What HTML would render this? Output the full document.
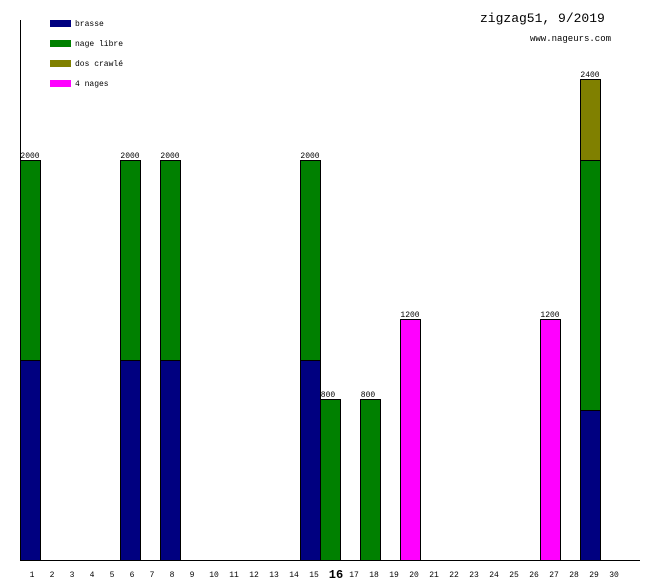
<!DOCTYPE html>
<html><head><style>body{margin:0;background:#fff}svg{display:block}</style></head><body>
<svg width="660" height="580" xmlns="http://www.w3.org/2000/svg" font-family="'Liberation Mono','DejaVu Sans Mono',monospace">
<rect width="660" height="580" fill="#fff"/>
<g stroke="#000" stroke-width="1">
<rect x="20.5" y="360.5" width="20" height="200" fill="#000080"/>
<rect x="20.5" y="160.5" width="20" height="200" fill="#008000"/>
<rect x="120.5" y="360.5" width="20" height="200" fill="#000080"/>
<rect x="120.5" y="160.5" width="20" height="200" fill="#008000"/>
<rect x="160.5" y="360.5" width="20" height="200" fill="#000080"/>
<rect x="160.5" y="160.5" width="20" height="200" fill="#008000"/>
<rect x="300.5" y="360.5" width="20" height="200" fill="#000080"/>
<rect x="300.5" y="160.5" width="20" height="200" fill="#008000"/>
<rect x="320.5" y="399.5" width="20" height="161" fill="#008000"/>
<rect x="360.5" y="399.5" width="20" height="161" fill="#008000"/>
<rect x="400.5" y="319.5" width="20" height="241" fill="#ff00ff"/>
<rect x="540.5" y="319.5" width="20" height="241" fill="#ff00ff"/>
<rect x="580.5" y="410.5" width="20" height="150" fill="#000080"/>
<rect x="580.5" y="160.5" width="20" height="250" fill="#008000"/>
<rect x="580.5" y="79.5" width="20" height="81" fill="#808000"/>
</g>
<line x1="20.5" y1="20" x2="20.5" y2="561" stroke="#000"/>
<line x1="20" y1="560.5" x2="640" y2="560.5" stroke="#000"/>
<g font-size="8" text-anchor="middle" fill="#000">
<text x="30" y="158">2000</text><text x="130" y="158">2000</text><text x="170" y="158">2000</text><text x="310" y="158">2000</text>
<text x="328" y="397">800</text><text x="368" y="397">800</text>
<text x="410" y="317">1200</text><text x="550" y="317">1200</text><text x="590" y="77">2400</text>
</g>
<g font-size="8" text-anchor="middle" fill="#000">
<text x="32" y="577">1</text><text x="52" y="577">2</text><text x="72" y="577">3</text><text x="92" y="577">4</text><text x="112" y="577">5</text><text x="132" y="577">6</text><text x="152" y="577">7</text><text x="172" y="577">8</text><text x="192" y="577">9</text><text x="214" y="577">10</text><text x="234" y="577">11</text><text x="254" y="577">12</text><text x="274" y="577">13</text><text x="294" y="577">14</text><text x="314" y="577">15</text><text x="354" y="577">17</text><text x="374" y="577">18</text><text x="394" y="577">19</text><text x="414" y="577">20</text><text x="434" y="577">21</text><text x="454" y="577">22</text><text x="474" y="577">23</text><text x="494" y="577">24</text><text x="514" y="577">25</text><text x="534" y="577">26</text><text x="554" y="577">27</text><text x="574" y="577">28</text><text x="594" y="577">29</text><text x="614" y="577">30</text>
</g>
<text x="336" y="578" font-size="12" font-weight="bold" text-anchor="middle">16</text>
<rect x="50" y="20" width="21" height="7" fill="#000080"/>
<rect x="50" y="40" width="21" height="7" fill="#008000"/>
<rect x="50" y="60" width="21" height="7" fill="#808000"/>
<rect x="50" y="80" width="21" height="7" fill="#ff00ff"/>
<g font-size="8" fill="#000">
<text x="75" y="26">brasse</text><text x="75" y="46">nage libre</text><text x="75" y="66">dos crawlé</text><text x="75" y="86">4 nages</text>
</g>
<text x="480" y="22" font-size="13" fill="#000">zigzag51, 9/2019</text>
<text x="530" y="41" font-size="9" fill="#000">www.nageurs.com</text>
</svg>
</body></html>
